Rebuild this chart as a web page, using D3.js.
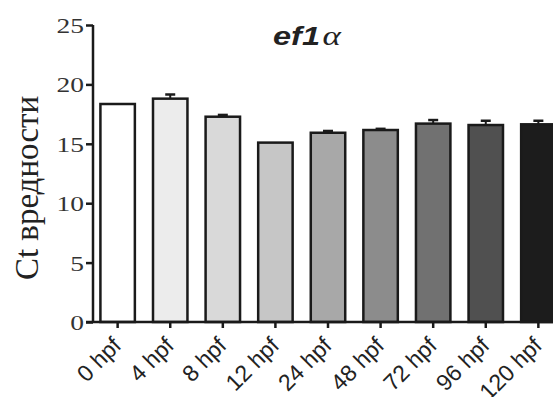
<!DOCTYPE html>
<html>
<head>
<meta charset="utf-8">
<script src="https://cdn.jsdelivr.net/npm/d3@7"></script>
<style>
  body { margin: 0; background: #fff; }
  svg { display: block; }
</style>
</head>
<body>
<div id="chart"></div>
<script>
var categories = ["0 hpf", "4 hpf", "8 hpf", "12 hpf", "24 hpf", "48 hpf", "72 hpf", "96 hpf", "120 hpf"];
var ctValues = [18.35, 18.8, 17.28, 15.1, 15.93, 16.16, 16.7, 16.58, 16.64];
var ctErrors = [0, 0.35, 0.15, 0.05, 0.15, 0.1, 0.3, 0.36, 0.3];
var barColors = ["#ffffff", "#ececec", "#d9d9d9", "#c6c6c6", "#a8a8a8", "#8c8c8c", "#717171", "#505050", "#1c1c1c"];
var yTicks = [0, 5, 10, 15, 20, 25];

var margin = {top: 25, right: 0, bottom: 75, left: 93};
var width = 553 - margin.left - margin.right,
    height = 397 - margin.top - margin.bottom;

// the source figure is a bit wider than tall, so some text is stretched sideways
var stretch = 1.25;

var svg = d3.select('#chart').append('svg')
  .attr('width', 553)
  .attr('height', 397);

var g = svg.append('g')
  .attr('transform', 'translate(' + margin.left + ',' + margin.top + ')');

var xScale = d3.scaleBand()
  .domain(categories)
  .range([-1, 471])
  .paddingInner(0.345)
  .paddingOuter(0.16);

var yScale = d3.scaleLinear()
  .domain([0, 25])
  .range([height, 0]);

// bars
g.selectAll('rect.bar')
  .data(categories)
  .enter().append('rect')
    .attr('class', 'bar')
    .attr('x', function(d){ return xScale(d); })
    .attr('y', function(d, i){ return yScale(ctValues[i]); })
    .attr('width', xScale.bandwidth())
    .attr('height', function(d, i){ return height - yScale(ctValues[i]); })
    .style('fill', function(d, i){ return barColors[i]; })
    .style('stroke', '#1a1a1a')
    .style('stroke-width', 2.5);

// error bars (upper only)
var errG = g.selectAll('g.err')
  .data(categories)
  .enter().append('g')
    .attr('class', 'err');

errG.append('line')
  .attr('x1', function(d){ return xScale(d) + xScale.bandwidth() / 2; })
  .attr('x2', function(d){ return xScale(d) + xScale.bandwidth() / 2; })
  .attr('y1', function(d, i){ return yScale(ctValues[i]); })
  .attr('y2', function(d, i){ return yScale(ctValues[i] + ctErrors[i]); })
  .style('stroke', '#1a1a1a')
  .style('stroke-width', 2);

errG.append('line')
  .attr('x1', function(d){ return xScale(d) + xScale.bandwidth() / 2 - 5; })
  .attr('x2', function(d){ return xScale(d) + xScale.bandwidth() / 2 + 5; })
  .attr('y1', function(d, i){ return yScale(ctValues[i] + ctErrors[i]); })
  .attr('y2', function(d, i){ return yScale(ctValues[i] + ctErrors[i]); })
  .style('stroke', '#1a1a1a')
  .style('stroke-width', 2.5)
  .style('display', function(d, i){ return ctErrors[i] > 0.08 ? null : 'none'; });

// y axis
var yAxis = d3.axisLeft(yScale)
  .tickValues(yTicks)
  .tickSize(7)
  .tickFormat('');

var yGuide = g.append('g').call(yAxis);
yGuide.select('.domain').remove();
yGuide.append('line')
  .attr('x1', 0).attr('x2', 0)
  .attr('y1', 0).attr('y2', height)
  .style('stroke', '#1a1a1a')
  .style('stroke-width', 2.5);
yGuide.selectAll('.tick line').style('stroke', '#1a1a1a').style('stroke-width', 2.5);
yGuide.selectAll('.tick').append('text')
  .attr('transform', 'translate(-9,0) scale(' + stretch + ',1)')
  .attr('text-anchor', 'end')
  .attr('dy', '0.34em')
  .style('font-family', '"Liberation Serif", "Times New Roman", serif')
  .style('font-size', '22px')
  .style('fill', '#333')
  .text(function(d){ return d; });

// x axis
var xAxis = d3.axisBottom(xScale)
  .tickSize(6)
  .tickFormat('');

var xGuide = g.append('g')
  .attr('transform', 'translate(0,' + height + ')')
  .call(xAxis);
xGuide.select('.domain').remove();
xGuide.append('line')
  .attr('x1', -7).attr('x2', width)
  .attr('y1', 0).attr('y2', 0)
  .style('stroke', '#1a1a1a')
  .style('stroke-width', 2.5);
xGuide.selectAll('.tick line').style('stroke', '#1a1a1a').style('stroke-width', 2.5);

xGuide.selectAll('text.xlab')
  .data(categories)
  .enter().append('text')
    .attr('class', 'xlab')
    .attr('transform', function(d){
      return 'translate(' + (xScale(d) + xScale.bandwidth() / 2 + 5) + ',25) rotate(-45)';
    })
    .attr('text-anchor', 'end')
    .style('font-family', '"Liberation Sans", Arial, sans-serif')
    .style('font-size', '23px')
    .style('fill', '#222')
    .text(function(d){ return d; });

// y label
svg.append('text')
  .attr('transform', 'translate(38,188) rotate(-90)')
  .attr('text-anchor', 'middle')
  .style('font-family', '"Liberation Serif", "Times New Roman", serif')
  .style('font-size', '33px')
  .style('fill', '#222')
  .text('Ct вредности');

// title
var title = svg.append('text')
  .attr('transform', 'translate(273,45) scale(' + stretch + ',1)')
  .style('fill', '#222');
title.append('tspan')
  .style('font-family', '"Liberation Sans", Arial, sans-serif')
  .style('font-weight', 'bold')
  .style('font-style', 'italic')
  .style('font-size', '26px')
  .text('ef1');
title.append('tspan')
  .attr('dx', 2)
  .style('font-family', '"Liberation Serif", "Times New Roman", serif')
  .style('font-style', 'italic')
  .style('font-size', '28px')
  .text('α');
</script>
</body>
</html>
